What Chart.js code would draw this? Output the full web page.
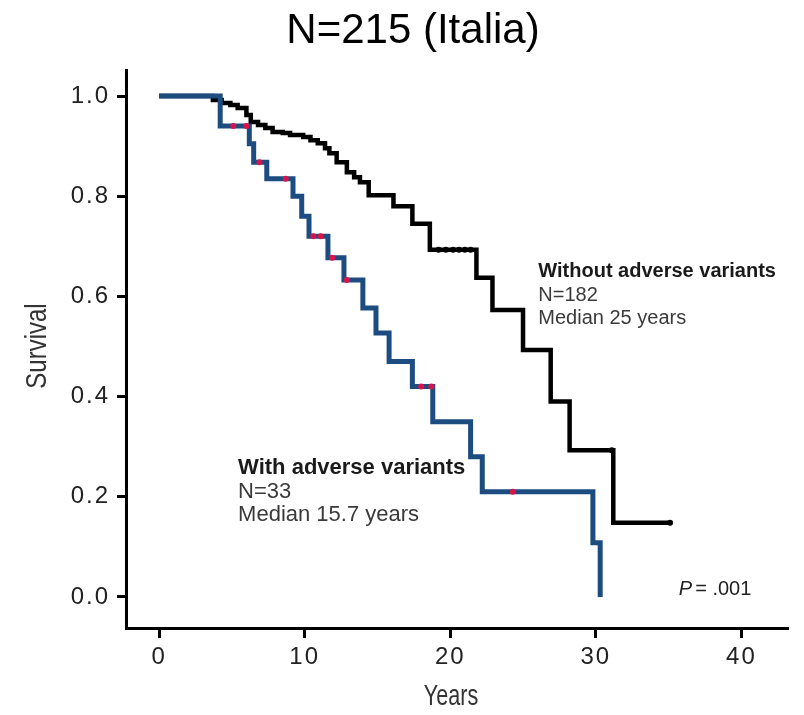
<!DOCTYPE html>
<html>
<head>
<meta charset="utf-8">
<script src="https://cdn.jsdelivr.net/npm/chart.js@4"></script>
<style>
  html, body { margin: 0; padding: 0; background: #fff; }
  #wrap { width: 804px; height: 715px; }
</style>
</head>
<body>
<div id="wrap"><canvas id="km" width="804" height="715"></canvas></div>
<script>
// --------- Data ---------
const xTicks = [0, 10, 20, 30, 40];
const yTicks = [0, 0.2, 0.4, 0.6, 0.8, 1.0];

// With adverse variants (N=33): step times in years, survival after the step
const withYears = [0, 4.2, 6.2, 6.5, 7.4, 9.2, 9.8, 10.3, 11.6, 12.7, 14.0, 14.9, 15.8, 17.4, 18.8, 21.4, 22.2, 29.8, 30.3];
const withSurv  = [1.0, 0.94, 0.905, 0.868, 0.835, 0.80, 0.76, 0.72, 0.677, 0.633, 0.577, 0.527, 0.47, 0.42, 0.35, 0.28, 0.21, 0.108, 0.0];
const withCensorYears = [5.1, 6.0, 6.9, 8.7, 10.6, 11.1, 11.9, 12.9, 18.0, 18.7, 24.3];
const withCensorSurv  = [0.94, 0.94, 0.868, 0.835, 0.72, 0.72, 0.677, 0.633, 0.42, 0.42, 0.21];

// Without adverse variants (N=182)
const withoutYears = [0, 3.7, 4.3, 4.9, 5.4, 6.0, 6.3, 6.8, 7.3, 7.8, 8.5, 9.0, 9.9, 10.4, 10.9, 11.4, 11.7, 12.2, 12.9, 13.4, 13.8, 14.4, 16.1, 17.4, 18.6, 21.8, 22.9, 25.0, 26.9, 28.2, 31.2, 35.1];
const withoutSurv  = [1.0, 0.992, 0.986, 0.982, 0.976, 0.962, 0.948, 0.942, 0.936, 0.928, 0.926, 0.922, 0.918, 0.912, 0.906, 0.896, 0.886, 0.868, 0.848, 0.838, 0.828, 0.802, 0.78, 0.745, 0.693, 0.637, 0.573, 0.493, 0.39, 0.293, 0.148, 0.148];
const withoutCensorYears = [19.2, 19.7, 20.2, 20.6, 21.0, 21.4, 31.1, 35.1];
const withoutCensorSurv  = [0.693, 0.693, 0.693, 0.693, 0.693, 0.693, 0.293, 0.148];

const FONT = "'Liberation Sans', Arial, Helvetica, sans-serif";
const BLUE = "#1d4c80";
const RED = "#d8144c";

const pts = (xs, ys) => xs.map((v, i) => ({ x: v, y: ys[i] }));

// --------- Wider tick lettering, like the original ---------
const spacingPlugin = {
  id: "tickSpacing",
  beforeDraw(chart) { chart.ctx.letterSpacing = "2px"; },
  beforeDatasetsDraw(chart) { chart.ctx.letterSpacing = "0px"; }
};

// --------- Text drawn on top: title, group labels, P value, axis titles ---------
const labelsPlugin = {
  id: "kmLabels",
  afterDraw(chart) {
    const { ctx, scales: { x, y } } = chart;
    ctx.save();
    ctx.letterSpacing = "0px";

    // title
    ctx.textAlign = "center";
    ctx.textBaseline = "middle";
    ctx.fillStyle = "#000";
    ctx.font = "42px " + FONT;
    ctx.fillText("N=215 (Italia)", 413, 31);

    ctx.textAlign = "left";
    function block(yr, sv, size, lines) {
      const px = x.getPixelForValue(yr);
      let py = y.getPixelForValue(sv);
      lines.forEach(([text, bold]) => {
        ctx.font = (bold ? "bold " : "") + size + "px " + FONT;
        ctx.fillStyle = bold ? "#1a1a1a" : "#3a3a3a";
        ctx.fillText(text, px, py);
        py += 23.5;
      });
    }
    block(26.05, 0.649, 20, [["Without adverse variants", true], ["N=182"], ["Median 25 years"]]);
    block(5.43, 0.2575, 22, [["With adverse variants", true], ["N=33"], ["Median 15.7 years"]]);

    // P = .001
    let px = x.getPixelForValue(35.7);
    const py = y.getPixelForValue(0.014);
    ctx.fillStyle = "#222";
    ctx.font = "italic 20px " + FONT;
    ctx.fillText("P", px, py);
    px += ctx.measureText("P").width + 3;
    ctx.font = "20px " + FONT;
    ctx.fillText("= .001", px, py);

    // condensed axis titles
    ctx.fillStyle = "#333";
    ctx.textAlign = "center";
    ctx.font = "30px " + FONT;
    ctx.save();
    ctx.translate(451, 697);
    ctx.scale(0.72, 1);
    ctx.fillText("Years", 0, 0);
    ctx.restore();
    ctx.save();
    ctx.translate(38, 346);
    ctx.rotate(-Math.PI / 2);
    ctx.scale(0.8, 1);
    ctx.fillText("Survival", 0, 0);
    ctx.restore();

    ctx.restore();
  }
};

new Chart(document.getElementById("km"), {
  type: "line",
  data: {
    datasets: [
      {
        label: "With adverse variants",
        data: pts(withYears, withSurv),
        stepped: "before",
        borderColor: BLUE,
        borderWidth: 5,
        borderJoinStyle: "miter",
        borderCapStyle: "butt",
        pointRadius: 0,
        fill: false,
        order: 2
      },
      {
        label: "Without adverse variants",
        data: pts(withoutYears, withoutSurv),
        stepped: "before",
        borderColor: "#000",
        borderWidth: 4.5,
        borderJoinStyle: "miter",
        borderCapStyle: "butt",
        pointRadius: 0,
        fill: false,
        order: 3
      },
      {
        label: "censored (with)",
        data: pts(withCensorYears, withCensorSurv),
        showLine: false,
        pointStyle: "circle",
        pointRadius: 3,
        pointBackgroundColor: RED,
        pointBorderWidth: 0,
        order: 1
      },
      {
        label: "censored (without)",
        data: pts(withoutCensorYears, withoutCensorSurv),
        showLine: false,
        pointStyle: "circle",
        pointRadius: 3,
        pointBackgroundColor: "#000",
        pointBorderWidth: 0,
        order: 1
      }
    ]
  },
  options: {
    responsive: false,
    animation: false,
    events: [],
    layout: { padding: { left: 0, right: 16, top: 70, bottom: 0 } },
    plugins: {
      legend: { display: false },
      tooltip: { enabled: false },
      title: { display: false }
    },
    scales: {
      x: {
        type: "linear",
        min: -2.27,
        max: 43.2,
        afterBuildTicks: axis => { axis.ticks = xTicks.map(v => ({ value: v })); },
        afterFit: s => { s.height = 87; },
        grid: { drawOnChartArea: false, drawTicks: true, tickLength: 10, tickWidth: 3, tickColor: "#000" },
        border: { display: true, color: "#000", width: 3 },
        ticks: { color: "#222", font: { family: FONT, size: 24 }, padding: 5, maxRotation: 0 }
      },
      y: {
        type: "linear",
        min: -0.062,
        max: 1.052,
        afterBuildTicks: axis => { axis.ticks = yTicks.map(v => ({ value: v })); },
        afterFit: s => { s.width = 126; },
        grid: { drawOnChartArea: false, drawTicks: true, tickLength: 9, tickWidth: 3, tickColor: "#000" },
        border: { display: true, color: "#000", width: 3 },
        ticks: { color: "#222", font: { family: FONT, size: 24 }, padding: 7, callback: v => v.toFixed(1) }
      }
    }
  },
  plugins: [spacingPlugin, labelsPlugin]
});
</script>
</body>
</html>
